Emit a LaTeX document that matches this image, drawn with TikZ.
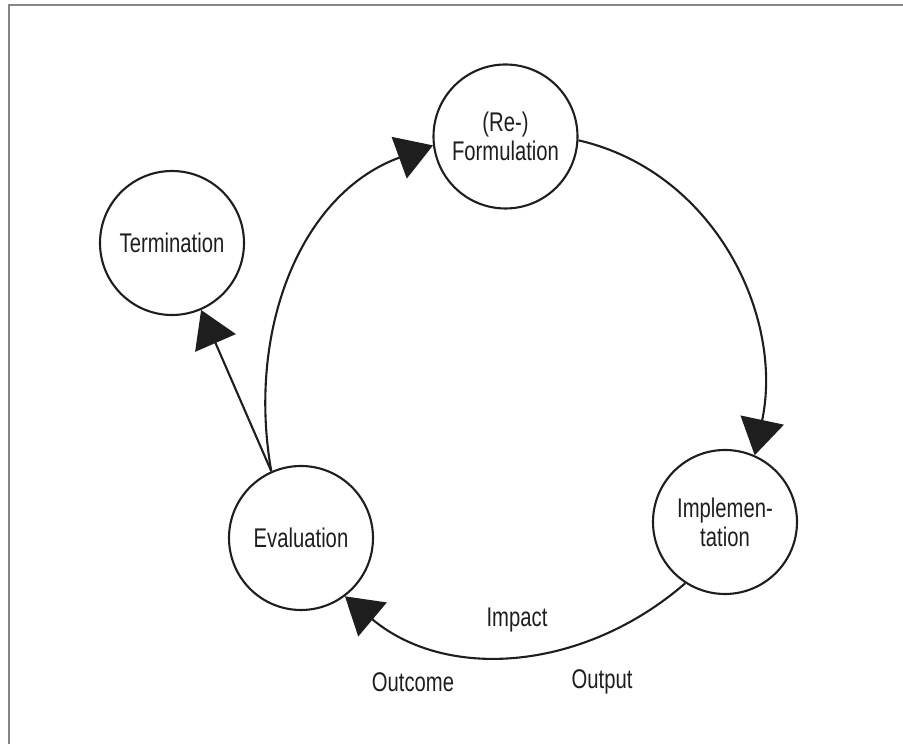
\documentclass[tikz,border=0pt]{standalone}
\usepackage{fontspec}
\setmainfont{Liberation Sans}[FakeStretch=0.75]
\usetikzlibrary{arrows.meta}
\definecolor{ink}{HTML}{1E1E1E}
\definecolor{framegray}{HTML}{858585}
\begin{document}
\begin{tikzpicture}[x=1pt,y=1pt,
  stage/.style={circle, draw=ink, line width=2.1pt, minimum size=144pt,
    inner sep=0pt, align=center, font=\fontsize{27}{29}\selectfont, text=ink},
  flow/.style={draw=ink, line width=2.1pt,
    -{Triangle[length=36pt,width=44pt]}},
  tag/.style={font=\fontsize{27}{29}\selectfont, text=ink}]
\useasboundingbox (0,0) rectangle (903,744);
% outer frame (left and top edges)
\draw[framegray, line width=2.4pt] (9,0) -- (9,739) -- (903,739);

% stages of the policy cycle
\node[stage] (form) at (505.5,607.5) {(Re-)\\Formulation};
\node[stage] (ter)  at (172,501)     {Termination};
\node[stage] (impl) at (725,222)     {Implemen-\\tation};
\node[stage] (eva)  at (301,206)     {Evaluation};

% cycle connectors
\draw[flow] (eva.114)  to[out=100,in=200] (form.187);
\draw[flow] (form.-3)  to[out=-13,in=78]  (impl.66);
\draw[flow] (impl.237) to[out=-139,in=-40] (eva.-53);
\draw[flow] (eva.114) -- (ter);

% result labels along the lower arc
\node[tag] (impact)  at (517,124) {Impact};
\node[tag] (outcome) at (413,62)  {Outcome};
\node[tag] (output)  at (602,62)  {Output};
\end{tikzpicture}
\end{document}
